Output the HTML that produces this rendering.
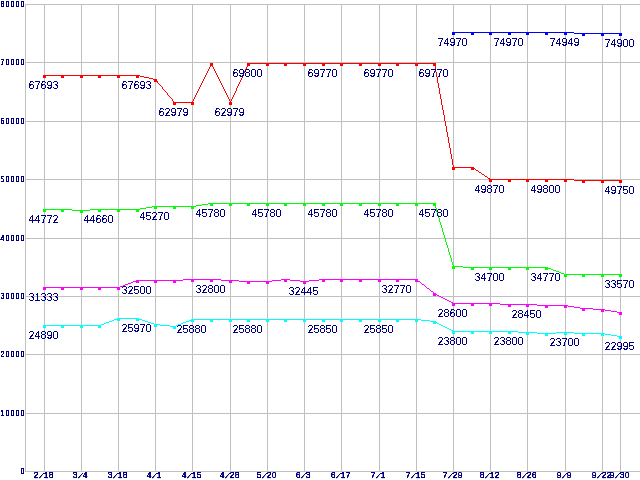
<!DOCTYPE html>
<html lang="en"><head><meta charset="utf-8"><title>Chart</title>
<style>html,body{margin:0;padding:0;background:#fff;overflow:hidden}svg{display:block}.ax{font-family:"Liberation Sans","DejaVu Sans",sans-serif;font-size:8.4px;fill:#000080;stroke:#000080;stroke-width:0.25px;text-anchor:middle}.ay{font-family:"Liberation Sans","DejaVu Sans",sans-serif;font-size:8.4px;fill:#000080;stroke:#000080;stroke-width:0.4px;text-anchor:middle}.dl{font-family:"Liberation Sans","DejaVu Sans",sans-serif;font-size:11px;fill:#000080;stroke:#000080;stroke-width:0.1px}</style></head><body>
<svg width="640" height="480" viewBox="0 0 640 480">
<defs><filter id="th" x="0" y="0" width="640" height="480" filterUnits="userSpaceOnUse" color-interpolation-filters="sRGB"><feComponentTransfer><feFuncA type="discrete" tableValues="0 1"/></feComponentTransfer></filter><filter id="sh" x="0" y="0" width="640" height="480" filterUnits="userSpaceOnUse" color-interpolation-filters="sRGB"><feComponentTransfer><feFuncA type="linear" slope="3" intercept="-0.6"/></feComponentTransfer></filter></defs>
<rect width="640" height="480" fill="#ffffff"/>
<g shape-rendering="crispEdges" fill="#c0c0c0">
<rect x="25" y="4" width="615" height="1"/>
<rect x="25" y="62" width="615" height="1"/>
<rect x="25" y="121" width="615" height="1"/>
<rect x="25" y="179" width="615" height="1"/>
<rect x="25" y="238" width="615" height="1"/>
<rect x="25" y="296" width="615" height="1"/>
<rect x="25" y="354" width="615" height="1"/>
<rect x="25" y="413" width="615" height="1"/>
<rect x="25" y="471" width="615" height="1"/>
<rect x="25" y="4" width="1" height="468"/>
<rect x="44" y="4" width="1" height="468"/>
<rect x="81" y="4" width="1" height="468"/>
<rect x="118" y="4" width="1" height="468"/>
<rect x="155" y="4" width="1" height="468"/>
<rect x="192" y="4" width="1" height="468"/>
<rect x="230" y="4" width="1" height="468"/>
<rect x="267" y="4" width="1" height="468"/>
<rect x="304" y="4" width="1" height="468"/>
<rect x="341" y="4" width="1" height="468"/>
<rect x="379" y="4" width="1" height="468"/>
<rect x="416" y="4" width="1" height="468"/>
<rect x="453" y="4" width="1" height="468"/>
<rect x="490" y="4" width="1" height="468"/>
<rect x="527" y="4" width="1" height="468"/>
<rect x="565" y="4" width="1" height="468"/>
<rect x="602" y="4" width="1" height="468"/>
<rect x="620" y="4" width="1" height="468"/>
</g>
<path shape-rendering="crispEdges" fill="#ff0000" d="M44 75h96v1h-96zM140 76h4v1h-4zM144 77h5v1h-5zM149 78h4v1h-4zM153 79h3v1h-3zM156 80h1v1h-1zM157 81h1v2h-1zM158 83h1v1h-1zM159 84h1v1h-1zM160 85h1v1h-1zM161 86h1v1h-1zM162 87h1v2h-1zM163 89h1v1h-1zM164 90h1v1h-1zM165 91h1v1h-1zM166 92h1v1h-1zM167 93h1v2h-1zM168 95h1v1h-1zM169 96h1v1h-1zM170 97h1v1h-1zM171 98h1v1h-1zM172 99h1v2h-1zM173 101h1v1h-1zM174 102h19v1h-19zM192 101h1v1h-1zM193 99h1v2h-1zM194 97h1v2h-1zM195 95h1v2h-1zM196 93h1v2h-1zM197 91h1v2h-1zM198 89h1v2h-1zM199 87h1v2h-1zM200 85h1v2h-1zM201 83h1v2h-1zM202 81h1v2h-1zM203 79h1v2h-1zM204 77h1v2h-1zM205 75h1v2h-1zM206 73h1v2h-1zM207 71h1v2h-1zM208 69h1v2h-1zM209 67h1v2h-1zM210 65h1v2h-1zM211 63h1v2h-1zM212 65h1v2h-1zM213 67h1v2h-1zM214 69h1v2h-1zM215 71h1v2h-1zM216 73h1v2h-1zM217 75h1v2h-1zM218 77h1v2h-1zM219 79h1v2h-1zM220 81h1v2h-1zM221 83h1v2h-1zM222 85h1v2h-1zM223 87h1v2h-1zM224 89h1v2h-1zM225 91h1v2h-1zM226 93h1v2h-1zM227 95h1v2h-1zM228 97h1v2h-1zM229 99h1v2h-1zM230 101h1v2h-1zM231 99h1v2h-1zM232 97h1v2h-1zM233 95h1v2h-1zM234 93h1v2h-1zM235 91h1v2h-1zM236 88h1v3h-1zM237 86h1v2h-1zM238 84h1v2h-1zM239 82h1v2h-1zM240 80h1v2h-1zM241 78h1v2h-1zM242 75h1v3h-1zM243 73h1v2h-1zM244 71h1v2h-1zM245 69h1v2h-1zM246 67h1v2h-1zM247 65h1v2h-1zM248 63h187v1h-187zM248 64h1v1h-1zM434 64h1v2h-1zM435 66h1v6h-1zM436 72h1v5h-1zM437 77h1v6h-1zM438 83h1v5h-1zM439 88h1v6h-1zM440 94h1v5h-1zM441 99h1v6h-1zM442 105h1v5h-1zM443 110h1v5h-1zM444 115h1v6h-1zM445 121h1v5h-1zM446 126h1v6h-1zM447 132h1v5h-1zM448 137h1v6h-1zM449 143h1v5h-1zM450 148h1v6h-1zM451 154h1v5h-1zM452 159h1v6h-1zM453 165h1v2h-1zM453 167h20v1h-20zM473 168h2v1h-2zM475 169h1v1h-1zM476 170h2v1h-2zM478 171h1v1h-1zM479 172h2v1h-2zM481 173h1v1h-1zM482 174h2v1h-2zM484 175h1v1h-1zM485 176h2v1h-2zM487 177h1v1h-1zM488 178h2v1h-2zM490 179h84v1h-84zM574 180h47v1h-47zM43 75h3v3h-3zM61 75h3v3h-3zM80 75h3v3h-3zM98 75h3v3h-3zM117 75h3v3h-3zM136 75h3v3h-3zM154 79h3v3h-3zM173 102h3v3h-3zM191 102h3v3h-3zM210 63h3v3h-3zM229 102h3v3h-3zM247 63h3v3h-3zM266 63h3v3h-3zM284 63h3v3h-3zM303 63h3v3h-3zM322 63h3v3h-3zM340 63h3v3h-3zM359 63h3v3h-3zM378 63h3v3h-3zM396 63h3v3h-3zM415 63h3v3h-3zM433 63h3v3h-3zM452 167h3v3h-3zM471 167h3v3h-3zM489 179h3v3h-3zM508 179h3v3h-3zM526 179h3v3h-3zM545 179h3v3h-3zM564 179h3v3h-3zM582 180h3v3h-3zM601 180h3v3h-3zM619 180h3v3h-3z"/>
<path shape-rendering="crispEdges" fill="#00ff00" d="M44 209h28v1h-28zM72 210h18v1h-18zM90 209h50v1h-50zM140 208h6v1h-6zM146 207h6v1h-6zM152 206h44v1h-44zM196 205h6v1h-6zM202 204h6v1h-6zM208 203h227v1h-227zM434 204h1v1h-1zM435 205h1v3h-1zM436 208h1v4h-1zM437 212h1v3h-1zM438 215h1v3h-1zM439 218h1v4h-1zM440 222h1v3h-1zM441 225h1v3h-1zM442 228h1v4h-1zM443 232h1v3h-1zM444 235h1v3h-1zM445 238h1v4h-1zM446 242h1v3h-1zM447 245h1v3h-1zM448 248h1v4h-1zM449 252h1v3h-1zM450 255h1v3h-1zM451 258h1v4h-1zM452 262h1v3h-1zM453 265h1v1h-1zM453 266h10v1h-10zM463 267h85v1h-85zM548 268h3v1h-3zM551 269h2v1h-2zM553 270h3v1h-3zM556 271h3v1h-3zM559 272h2v1h-2zM561 273h3v1h-3zM564 274h57v1h-57zM43 209h3v3h-3zM61 209h3v3h-3zM80 210h3v3h-3zM98 209h3v3h-3zM117 209h3v3h-3zM136 209h3v3h-3zM154 206h3v3h-3zM173 206h3v3h-3zM191 206h3v3h-3zM210 203h3v3h-3zM229 203h3v3h-3zM247 203h3v3h-3zM266 203h3v3h-3zM284 203h3v3h-3zM303 203h3v3h-3zM322 203h3v3h-3zM340 203h3v3h-3zM359 203h3v3h-3zM378 203h3v3h-3zM396 203h3v3h-3zM415 203h3v3h-3zM433 203h3v3h-3zM452 266h3v3h-3zM471 267h3v3h-3zM489 267h3v3h-3zM508 267h3v3h-3zM526 267h3v3h-3zM545 267h3v3h-3zM564 274h3v3h-3zM582 274h3v3h-3zM601 274h3v3h-3zM619 274h3v3h-3z"/>
<path shape-rendering="crispEdges" fill="#ff00ff" d="M44 287h76v1h-76zM120 286h3v1h-3zM123 285h2v1h-2zM125 284h3v1h-3zM128 283h3v1h-3zM131 282h2v1h-2zM133 281h3v1h-3zM136 280h47v1h-47zM183 279h38v1h-38zM221 280h18v1h-18zM239 281h33v1h-33zM272 280h9v1h-9zM281 279h9v1h-9zM290 280h10v1h-10zM300 281h9v1h-9zM309 280h10v1h-10zM319 279h98v1h-98zM417 280h1v1h-1zM418 281h2v1h-2zM420 282h1v1h-1zM421 283h1v1h-1zM422 284h2v1h-2zM424 285h1v1h-1zM425 286h1v1h-1zM426 287h1v1h-1zM427 288h2v1h-2zM429 289h1v1h-1zM430 290h1v1h-1zM431 291h2v1h-2zM433 292h1v1h-1zM434 293h1v1h-1zM435 294h2v1h-2zM437 295h2v1h-2zM439 296h2v1h-2zM441 297h2v1h-2zM443 298h2v1h-2zM445 299h2v1h-2zM447 300h2v1h-2zM449 301h2v1h-2zM451 302h2v1h-2zM453 303h47v1h-47zM500 304h37v1h-37zM537 305h31v1h-31zM568 306h6v1h-6zM574 307h6v1h-6zM580 308h13v1h-13zM593 309h12v1h-12zM605 310h6v1h-6zM611 311h6v1h-6zM617 312h4v1h-4zM43 287h3v3h-3zM61 287h3v3h-3zM80 287h3v3h-3zM98 287h3v3h-3zM117 287h3v3h-3zM136 280h3v3h-3zM154 280h3v3h-3zM173 280h3v3h-3zM191 279h3v3h-3zM210 279h3v3h-3zM229 280h3v3h-3zM247 281h3v3h-3zM266 281h3v3h-3zM284 279h3v3h-3zM303 281h3v3h-3zM322 279h3v3h-3zM340 279h3v3h-3zM359 279h3v3h-3zM378 279h3v3h-3zM396 279h3v3h-3zM415 279h3v3h-3zM433 293h3v3h-3zM452 303h3v3h-3zM471 303h3v3h-3zM489 303h3v3h-3zM508 304h3v3h-3zM526 304h3v3h-3zM545 305h3v3h-3zM564 305h3v3h-3zM582 308h3v3h-3zM601 309h3v3h-3zM619 312h3v3h-3z"/>
<path shape-rendering="crispEdges" fill="#00ffff" d="M44 325h57v1h-57zM101 324h3v1h-3zM104 323h2v1h-2zM106 322h3v1h-3zM109 321h3v1h-3zM112 320h2v1h-2zM114 319h3v1h-3zM117 318h22v1h-22zM139 319h3v1h-3zM142 320h3v1h-3zM145 321h3v1h-3zM148 322h3v1h-3zM151 323h3v1h-3zM154 324h6v1h-6zM160 325h10v1h-10zM170 326h6v1h-6zM176 325h2v1h-2zM178 324h3v1h-3zM181 323h2v1h-2zM183 322h3v1h-3zM186 321h3v1h-3zM189 320h2v1h-2zM191 319h230v1h-230zM421 320h9v1h-9zM430 321h5v1h-5zM435 322h2v1h-2zM437 323h2v1h-2zM439 324h2v1h-2zM441 325h2v1h-2zM443 326h2v1h-2zM445 327h2v1h-2zM447 328h2v1h-2zM449 329h2v1h-2zM451 330h2v1h-2zM453 331h65v1h-65zM518 332h19v1h-19zM537 333h19v1h-19zM556 332h18v1h-18zM574 333h31v1h-31zM605 334h6v1h-6zM611 335h6v1h-6zM617 336h4v1h-4zM43 325h3v3h-3zM61 325h3v3h-3zM80 325h3v3h-3zM98 325h3v3h-3zM117 318h3v3h-3zM136 318h3v3h-3zM154 324h3v3h-3zM173 326h3v3h-3zM191 319h3v3h-3zM210 319h3v3h-3zM229 319h3v3h-3zM247 319h3v3h-3zM266 319h3v3h-3zM284 319h3v3h-3zM303 319h3v3h-3zM322 319h3v3h-3zM340 319h3v3h-3zM359 319h3v3h-3zM378 319h3v3h-3zM396 319h3v3h-3zM415 319h3v3h-3zM433 321h3v3h-3zM452 331h3v3h-3zM471 331h3v3h-3zM489 331h3v3h-3zM508 331h3v3h-3zM526 332h3v3h-3zM545 333h3v3h-3zM564 332h3v3h-3zM582 333h3v3h-3zM601 333h3v3h-3zM619 336h3v3h-3z"/>
<path shape-rendering="crispEdges" fill="#0000ff" d="M453 32h121v1h-121zM574 33h47v1h-47zM452 32h3v3h-3zM471 32h3v3h-3zM489 32h3v3h-3zM508 32h3v3h-3zM526 32h3v3h-3zM545 32h3v3h-3zM564 32h3v3h-3zM582 33h3v3h-3zM601 33h3v3h-3zM619 33h3v3h-3z"/>
<g filter="url(#th)">
<g class="ay" transform="scale(0.8,1)">
<text x="2.87 9.12 15.38 21.62 27.88" y="7">80000</text>
<text x="2.87 9.12 15.38 21.62 27.88" y="65">70000</text>
<text x="2.87 9.12 15.38 21.62 27.88" y="124">60000</text>
<text x="2.87 9.12 15.38 21.62 27.88" y="182">50000</text>
<text x="2.87 9.12 15.38 21.62 27.88" y="241">40000</text>
<text x="2.87 9.12 15.38 21.62 27.88" y="299">30000</text>
<text x="2.87 9.12 15.38 21.62 27.88" y="357">20000</text>
<text x="2.87 9.12 15.38 21.62 27.88" y="416">10000</text>
<text x="27.88" y="474">0</text>
</g>
</g>
<g filter="url(#sh)">
<g class="ax">
<text x="36 40.2 46 51" y="478" rotate="0 26 0 0">2/18</text>
<text x="75 79.2 85" y="478" rotate="0 26 0">3/4</text>
<text x="110 114.2 120 125" y="478" rotate="0 26 0 0">3/18</text>
<text x="149 153.2 159" y="478" rotate="0 26 0">4/1</text>
<text x="184 188.2 194 199" y="478" rotate="0 26 0 0">4/15</text>
<text x="222 226.2 232 237" y="478" rotate="0 26 0 0">4/28</text>
<text x="259 263.2 269 274" y="478" rotate="0 26 0 0">5/20</text>
<text x="298 302.2 308" y="478" rotate="0 26 0">6/3</text>
<text x="333 337.2 343 348" y="478" rotate="0 26 0 0">6/17</text>
<text x="373 377.2 383" y="478" rotate="0 26 0">7/1</text>
<text x="408 412.2 418 423" y="478" rotate="0 26 0 0">7/15</text>
<text x="445 449.2 455 460" y="478" rotate="0 26 0 0">7/29</text>
<text x="482 486.2 492 497" y="478" rotate="0 26 0 0">8/12</text>
<text x="519 523.2 529 534" y="478" rotate="0 26 0 0">8/26</text>
<text x="559 563.2 569" y="478" rotate="0 26 0">9/9</text>
<text x="594 598.2 604 609" y="478" rotate="0 26 0 0">9/22</text>
<text x="612 616.2 622 627" y="478" rotate="0 26 0 0">9/30</text>
</g>
</g>
<g class="dl" filter="url(#th)">
<text x="28.6 34.6 40.6 46.6 52.6" y="89">67693</text>
<text x="121.6 127.6 133.6 139.6 145.6" y="89">67693</text>
<text x="158.6 164.6 170.6 176.6 182.6" y="116">62979</text>
<text x="214.6 220.6 226.6 232.6 238.6" y="116">62979</text>
<text x="232.6 238.6 244.6 250.6 256.6" y="77">69800</text>
<text x="307.6 313.6 319.6 325.6 331.6" y="77">69770</text>
<text x="363.6 369.6 375.6 381.6 387.6" y="77">69770</text>
<text x="418.6 424.6 430.6 436.6 442.6" y="77">69770</text>
<text x="474.6 480.6 486.6 492.6 498.6" y="193">49870</text>
<text x="530.6 536.6 542.6 548.6 554.6" y="193">49800</text>
<text x="604.6 610.6 616.6 622.6 628.6" y="194">49750</text>
<text x="28.6 34.6 40.6 46.6 52.6" y="223">44772</text>
<text x="83.6 89.6 95.6 101.6 107.6" y="223">44660</text>
<text x="139.6 145.6 151.6 157.6 163.6" y="220">45270</text>
<text x="195.6 201.6 207.6 213.6 219.6" y="217">45780</text>
<text x="251.6 257.6 263.6 269.6 275.6" y="217">45780</text>
<text x="307.6 313.6 319.6 325.6 331.6" y="217">45780</text>
<text x="363.6 369.6 375.6 381.6 387.6" y="217">45780</text>
<text x="418.6 424.6 430.6 436.6 442.6" y="217">45780</text>
<text x="474.6 480.6 486.6 492.6 498.6" y="281">34700</text>
<text x="530.6 536.6 542.6 548.6 554.6" y="281">34770</text>
<text x="604.6 610.6 616.6 622.6 628.6" y="288">33570</text>
<text x="28.6 34.6 40.6 46.6 52.6" y="301">31333</text>
<text x="121.6 127.6 133.6 139.6 145.6" y="294">32500</text>
<text x="195.6 201.6 207.6 213.6 219.6" y="293">32800</text>
<text x="288.6 294.6 300.6 306.6 312.6" y="295">32445</text>
<text x="381.6 387.6 393.6 399.6 405.6" y="293">32770</text>
<text x="437.6 443.6 449.6 455.6 461.6" y="317">28600</text>
<text x="511.6 517.6 523.6 529.6 535.6" y="318">28450</text>
<text x="28.6 34.6 40.6 46.6 52.6" y="339">24890</text>
<text x="121.6 127.6 133.6 139.6 145.6" y="332">25970</text>
<text x="176.6 182.6 188.6 194.6 200.6" y="333">25880</text>
<text x="232.6 238.6 244.6 250.6 256.6" y="333">25880</text>
<text x="307.6 313.6 319.6 325.6 331.6" y="333">25850</text>
<text x="363.6 369.6 375.6 381.6 387.6" y="333">25850</text>
<text x="437.6 443.6 449.6 455.6 461.6" y="345">23800</text>
<text x="493.6 499.6 505.6 511.6 517.6" y="345">23800</text>
<text x="549.6 555.6 561.6 567.6 573.6" y="346">23700</text>
<text x="604.6 610.6 616.6 622.6 628.6" y="350">22995</text>
<text x="437.6 443.6 449.6 455.6 461.6" y="46">74970</text>
<text x="493.6 499.6 505.6 511.6 517.6" y="46">74970</text>
<text x="549.6 555.6 561.6 567.6 573.6" y="46">74949</text>
<text x="604.6 610.6 616.6 622.6 628.6" y="47">74900</text>
</g>
</svg></body></html>
